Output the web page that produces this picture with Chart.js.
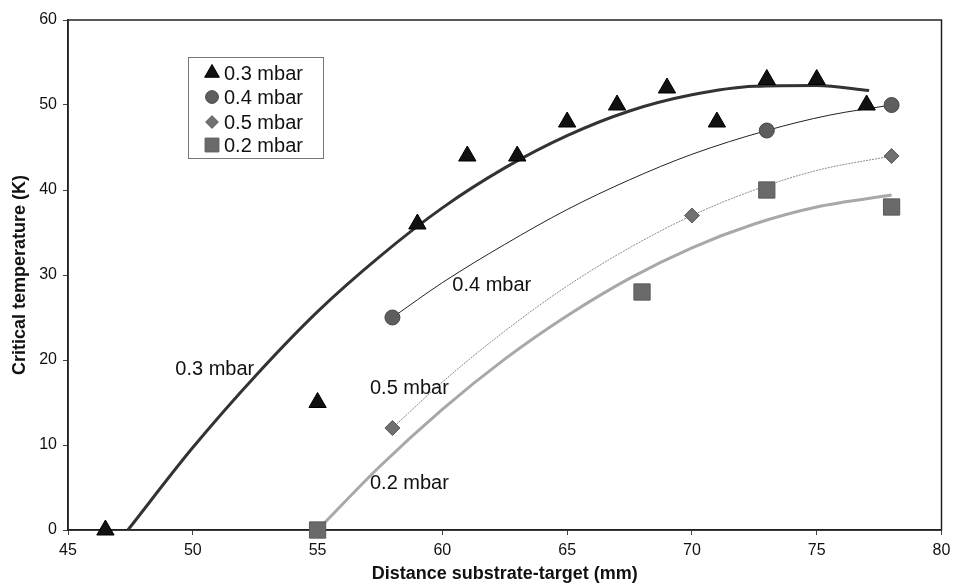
<!DOCTYPE html>
<html>
<head>
<meta charset="utf-8">
<title>Critical temperature vs distance</title>
<script src="https://cdn.jsdelivr.net/npm/chart.js@4/dist/chart.umd.min.js"></script>
<style>
  html, body { margin: 0; padding: 0; background: #fff; }
  #wrap { width: 954px; height: 585px; }
</style>
</head>
<body>
<div id="wrap"><canvas id="myChart" width="954" height="585"></canvas></div>
<script>
// measured points
const seriesNames = ['0.3 mbar', '0.4 mbar', '0.5 mbar', '0.2 mbar'];
const dist03 = [46.5, 55, 59, 61, 63, 65, 67, 69, 71, 73, 75, 77];
const temp03 = [0, 15, 36, 44, 44, 48, 50, 52, 48, 53, 53, 50];
const dist04 = [58, 73, 78];
const temp04 = [25, 47, 50];
const dist05 = [58, 70, 78];
const temp05 = [12, 37, 44];
const dist02 = [55, 68, 73, 78];
const temp02 = [0, 28, 40, 38];

// trend curves
const fitDist03 = [47.4, 50, 52.5, 55, 57.5, 60, 62.5, 65, 67.5, 70, 72.5, 75, 77.1];
const fitTemp03 = [0, 9.7, 18.1, 25.7, 32.2, 37.9, 42.6, 46.4, 49.3, 51.2, 52.2, 52.3, 51.7];
const fitDist04 = [58, 60, 62.5, 65, 67.5, 70, 73, 75.5, 78];
const fitTemp04 = [25, 29.1, 33.6, 37.7, 41.2, 44.2, 47, 48.8, 50];
const fitDist05 = [58, 60, 62.5, 65, 67.5, 70, 72.5, 75, 78];
const fitTemp05 = [12, 17.4, 23.4, 28.7, 33.2, 37, 40, 42.3, 44];
const fitDist02 = [55, 57.5, 60, 62.5, 65, 67.5, 70, 72.5, 75, 78];
const fitTemp02 = [0, 7.5, 14.2, 20.1, 25.2, 29.6, 33.2, 36, 38, 39.4];

const xTicks = [45, 50, 55, 60, 65, 70, 75, 80];
const yTicks = [0, 10, 20, 30, 40, 50, 60];

// text labels placed next to each curve (data coords)
const curveLabels = [
  { text: '0.3 mbar', x: 49.3, y: 18.9 },
  { text: '0.4 mbar', x: 60.4, y: 28.8 },
  { text: '0.5 mbar', x: 57.1, y: 16.6 },
  { text: '0.2 mbar', x: 57.1, y: 5.5 },
];

const fontFamily = '"Liberation Sans", Arial, Helvetica, sans-serif';

function toPoints(xs, ys) {
  return xs.map((x, i) => ({ x: x, y: ys[i] }));
}

const markerStyles = [
  { pointStyle: 'triangle', radius: 10, bg: '#111111', border: '#000000' },
  { pointStyle: 'circle', radius: 7.5, bg: '#5e5e5e', border: '#444444' },
  { pointStyle: 'rectRot', radius: 7.5, bg: '#707070', border: '#5a5a5a' },
  { pointStyle: 'rect', radius: 11.5, bg: '#6a6a6a', border: '#5a5a5a' },
];

function markerSet(name, xs, ys, m) {
  return {
    type: 'scatter',
    label: name,
    data: toPoints(xs, ys),
    pointStyle: m.pointStyle,
    pointRadius: m.radius,
    pointBackgroundColor: m.bg,
    pointBorderColor: m.border,
    pointBorderWidth: 1,
    showLine: false,
    clip: false,
    order: 1,
  };
}

function trendSet(name, xs, ys, color, width, dash) {
  return {
    type: 'line',
    label: name + ' fit',
    data: toPoints(xs, ys),
    borderColor: color,
    borderWidth: width,
    borderDash: dash || [],
    pointRadius: 0,
    fill: false,
    cubicInterpolationMode: 'monotone',
    order: 2,
  };
}

const frameAndLabels = {
  id: 'frameAndLabels',
  beforeDatasetsDraw(chart) {
    const a = chart.chartArea;
    const ctx = chart.ctx;
    ctx.save();
    ctx.strokeStyle = '#222';
    ctx.lineWidth = 1.5;
    ctx.strokeRect(a.left, a.top, a.right - a.left, a.bottom - a.top);
    ctx.restore();
  },
  afterDatasetsDraw(chart) {
    const ctx = chart.ctx;
    const xs = chart.scales.x;
    const ys = chart.scales.y;
    ctx.save();
    ctx.fillStyle = '#111';
    ctx.font = '20px ' + fontFamily;
    ctx.textBaseline = 'middle';
    ctx.textAlign = 'left';
    curveLabels.forEach(l => {
      ctx.fillText(l.text, xs.getPixelForValue(l.x), ys.getPixelForValue(l.y));
    });

    // legend box
    const box = { left: 188, top: 57, width: 135, height: 101 };
    ctx.fillStyle = '#fff';
    ctx.fillRect(box.left, box.top, box.width, box.height);
    ctx.strokeStyle = '#777';
    ctx.lineWidth = 1;
    ctx.strokeRect(box.left + 0.5, box.top + 0.5, box.width, box.height);
    const rowY = [73, 97, 122, 145];
    seriesNames.forEach((name, i) => {
      const m = markerStyles[i];
      const r = m.radius * 0.85;
      ctx.fillStyle = m.bg;
      ctx.strokeStyle = m.border;
      ctx.lineWidth = 1;
      Chart.helpers.drawPoint(ctx, { pointStyle: m.pointStyle, radius: r, borderWidth: 1 }, 212, rowY[i]);
      ctx.fillStyle = '#111';
      ctx.fillText(name, 224, rowY[i] + 1);
    });
    ctx.restore();
  },
};

const ctx = document.getElementById('myChart');
const chart = new Chart(ctx, {
  type: 'scatter',
  data: {
    datasets: [
      markerSet(seriesNames[0], dist03, temp03, markerStyles[0]),
      markerSet(seriesNames[1], dist04, temp04, markerStyles[1]),
      markerSet(seriesNames[2], dist05, temp05, markerStyles[2]),
      markerSet(seriesNames[3], dist02, temp02, markerStyles[3]),
      trendSet(seriesNames[0], fitDist03, fitTemp03, '#333333', 3),
      trendSet(seriesNames[1], fitDist04, fitTemp04, '#222222', 1),
      trendSet(seriesNames[2], fitDist05, fitTemp05, '#8a8a8a', 1, [2, 1]),
      trendSet(seriesNames[3], fitDist02, fitTemp02, '#a8a8a8', 3),
    ],
  },
  options: {
    responsive: false,
    animation: false,
    layout: { padding: { top: 20, right: 11, left: 0, bottom: 0 } },
    plugins: {
      legend: { display: false },
      tooltip: { enabled: false },
    },
    scales: {
      x: {
        type: 'linear',
        min: 45,
        max: 80,
        afterBuildTicks: s => { s.ticks = xTicks.map(v => ({ value: v })); },
        afterFit: s => { s.height = 55; s.paddingRight = 0; s.paddingLeft = 0; },
        grid: { display: true, drawOnChartArea: false, drawTicks: true, tickLength: 5, color: '#444' },
        border: { display: true, color: '#222', width: 1.5 },
        ticks: { color: '#111', font: { family: fontFamily, size: 16 }, padding: 6, maxRotation: 0 },
        title: {
          display: true,
          text: 'Distance substrate-target (mm)',
          color: '#111',
          font: { family: fontFamily, size: 18, weight: 'bold' },
          padding: { top: 0, bottom: 0 },
        },
      },
      y: {
        type: 'linear',
        min: 0,
        max: 60,
        afterBuildTicks: s => { s.ticks = yTicks.map(v => ({ value: v })); },
        afterFit: s => { s.width = 68; },
        grid: { display: true, drawOnChartArea: false, drawTicks: true, tickLength: 5, color: '#444' },
        border: { display: true, color: '#222', width: 1.5 },
        ticks: { color: '#111', font: { family: fontFamily, size: 16 }, padding: 6 },
        title: {
          display: true,
          text: 'Critical temperature (K)',
          color: '#111',
          font: { family: fontFamily, size: 18, weight: 'bold' },
          padding: { top: 9, bottom: 0 },
        },
      },
    },
  },
  plugins: [frameAndLabels],
});
</script>
</body>
</html>
